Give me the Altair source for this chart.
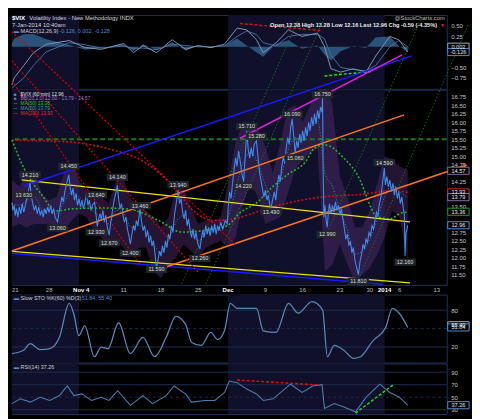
import altair as alt
import pandas as pd

FONT = "Liberation Sans"
W = 448
H_MACD, H_MAIN, H_GAP, H_STO, H_RSI = 76, 201, 8, 70, 52
BORDER = "#223152"
SHADE = "#10102a"
AX_COL = "#c4c4c4"
BOX = "M-1,-0.333H1V0.333H-1Z"

# ---------------- x axis: trading-day index from 21 Oct 2013 ----------------
tick_days = [0, 5, 9.3, 15, 20, 25, 29, 34, 39, 44, 48, 50, 52, 57]
tick_labels = ["21", "28", "Nov 4", "11", "18", "25", "Dec", "9", "16", "23", "30", "2014", "6", "13"]
tick_bold = [False, False, True, False, False, False, True, False, False, False, False, True, False, False]

shade_start = [0, 29]
shade_end = [9, 50]

# ---------------- $VIX 60-minute price ----------------
price_points = [
    (0.0, 13.63), (0.15, 13.40), (0.3, 13.55), (0.45, 13.25), (0.6, 13.45), (0.8, 13.20), (1.0, 13.50),
    (1.2, 13.30), (1.4, 13.60), (1.6, 13.35), (1.8, 13.55), (2.0, 13.75), (2.2, 13.95), (2.43, 14.21),
    (2.6, 13.85), (2.8, 13.60), (3.0, 13.40), (3.2, 13.55), (3.4, 13.30), (3.6, 13.50), (3.8, 13.25),
    (4.0, 13.40), (4.2, 13.20), (4.4, 13.45), (4.6, 13.30), (4.8, 13.50), (5.0, 13.35), (5.2, 13.55),
    (5.4, 13.30), (5.6, 13.45), (5.8, 13.20), (6.12, 13.06), (6.3, 13.30), (6.5, 13.55), (6.7, 13.80),
    (6.9, 13.65), (7.1, 13.95), (7.3, 14.15), (7.64, 14.45), (7.8, 14.10), (8.0, 13.85), (8.2, 14.05),
    (8.4, 13.70), (8.6, 13.90), (8.8, 13.55), (9.0, 13.75), (9.2, 13.50), (9.4, 13.70), (9.6, 13.45),
    (9.8, 13.65), (10.0, 13.90), (10.2, 13.55), (10.4, 13.70), (10.6, 13.40), (10.8, 13.55), (11.1, 13.64),
    (11.3, 13.25), (11.45, 12.93), (11.6, 13.10), (11.8, 13.30), (12.0, 13.15), (12.2, 13.40), (12.4, 13.05),
    (12.6, 13.25), (12.8, 12.90), (13.06, 12.67), (13.2, 12.95), (13.4, 13.25), (13.6, 13.55), (13.8, 13.80),
    (14.0, 13.95), (14.15, 14.14), (14.3, 13.75), (14.5, 13.45), (14.7, 13.60), (14.9, 13.25), (15.1, 13.05),
    (15.3, 13.20), (15.5, 12.85), (15.7, 12.65), (15.89, 12.40), (16.1, 12.70), (16.3, 12.95), (16.5, 12.80),
    (16.7, 13.10), (16.9, 12.95), (17.19, 13.46), (17.4, 13.05), (17.6, 12.80), (17.8, 12.95), (18.0, 12.60),
    (18.2, 12.80), (18.4, 12.45), (18.6, 12.65), (18.8, 12.35), (19.0, 12.50), (19.2, 12.10), (19.4, 11.65),
    (19.6, 11.95), (19.8, 12.20), (20.0, 12.05), (20.2, 12.35), (20.4, 12.15), (20.6, 12.50), (20.8, 12.30),
    (21.0, 12.70), (21.2, 12.55), (21.4, 12.95), (21.6, 12.75), (21.8, 13.25), (22.0, 13.55), (22.3, 13.98),
    (22.5, 13.60), (22.7, 13.75), (22.9, 13.35), (23.1, 13.15), (23.3, 13.40), (23.5, 12.95), (23.7, 13.15),
    (23.9, 12.80), (24.1, 12.60), (24.3, 12.85), (24.5, 12.55), (24.7, 12.75), (24.9, 12.45), (25.22, 12.26),
    (25.4, 12.55), (25.6, 12.80), (25.8, 12.60), (26.0, 12.95), (26.2, 12.70), (26.4, 12.90), (26.6, 12.65),
    (26.8, 12.95), (27.0, 12.75), (27.2, 13.00), (27.4, 12.70), (27.6, 12.95), (27.8, 12.80), (28.0, 13.05),
    (28.3, 12.85), (28.6, 13.10), (28.9, 13.00), (29.0, 13.45), (29.2, 13.95), (29.4, 13.75), (29.6, 14.20),
    (29.8, 14.60), (30.0, 14.95), (30.2, 14.70), (30.4, 15.15), (30.6, 14.90), (30.8, 14.55), (31.08, 14.25),
    (31.3, 15.00), (31.5, 15.75), (31.7, 15.20), (31.9, 14.95), (32.1, 15.25), (32.3, 15.00), (32.5, 15.35),
    (32.8, 15.45), (33.0, 15.00), (33.2, 14.55), (33.4, 14.30), (33.6, 14.05), (33.8, 13.80), (34.0, 14.00),
    (34.2, 13.70), (34.4, 13.85), (34.6, 13.55), (34.77, 13.49), (35.0, 13.75), (35.2, 13.95), (35.4, 13.70),
    (35.6, 14.15), (35.8, 14.45), (36.0, 14.25), (36.2, 14.70), (36.4, 14.95), (36.6, 14.80), (36.8, 15.25),
    (37.0, 15.55), (37.2, 15.35), (37.4, 15.85), (37.6, 16.10), (37.8, 15.60), (38.0, 15.10), (38.2, 15.45),
    (38.4, 15.25), (38.6, 15.65), (38.8, 15.40), (39.0, 15.75), (39.2, 15.45), (39.4, 15.85), (39.6, 15.60),
    (39.8, 16.00), (40.0, 15.75), (40.2, 16.15), (40.4, 15.90), (40.6, 16.25), (40.8, 15.95), (41.0, 16.35),
    (41.2, 16.10), (41.4, 16.45), (41.6, 16.30), (41.67, 16.75), (41.75, 14.60), (41.85, 13.20), (42.0, 13.55),
    (42.15, 13.10), (42.3, 12.90), (42.45, 13.35), (42.6, 13.60), (42.8, 13.30), (43.0, 13.55), (43.2, 13.35),
    (43.4, 13.65), (43.6, 13.40), (43.8, 13.55), (44.0, 13.25), (44.2, 13.45), (44.4, 13.15), (44.6, 12.85),
    (44.8, 12.55), (45.0, 12.70), (45.2, 12.35), (45.4, 12.50), (45.6, 12.15), (45.8, 12.30), (46.0, 11.95),
    (46.2, 11.75), (46.48, 11.50), (46.7, 11.90), (46.9, 12.10), (47.1, 12.40), (47.3, 12.25), (47.5, 12.55),
    (47.7, 12.45), (47.9, 12.75), (48.1, 12.65), (48.3, 12.95), (48.5, 12.85), (48.7, 13.10), (48.9, 13.35),
    (49.1, 13.25), (49.3, 13.60), (49.5, 13.80), (49.7, 14.20), (49.96, 14.65), (50.1, 14.15), (50.3, 14.40),
    (50.5, 14.10), (50.7, 14.30), (50.9, 13.95), (51.1, 14.20), (51.3, 13.85), (51.5, 14.10), (51.7, 13.75),
    (51.9, 13.95), (52.1, 13.60), (52.3, 13.80), (52.5, 13.45), (52.65, 13.25), (52.73, 12.05), (52.85, 12.70),
    (53.1, 12.96),
]

# Bollinger bands (20,2) and MA(20), one reading per trading day
bb_days = list(range(54)) + [53.1]
bb_upper = [14.30, 14.10, 14.50, 14.60, 13.90, 13.70, 13.80, 14.50, 14.80, 14.30,
            14.00, 13.90, 13.80, 13.60, 14.30, 14.30, 13.70, 13.60, 13.40, 13.20,
            12.90, 13.20, 14.10, 14.10, 13.50, 13.00, 13.10, 13.10, 13.20, 14.20,
            15.40, 16.00, 16.00, 15.80, 15.30, 14.50, 15.40, 16.40, 16.50, 16.00,
            16.50, 16.90, 17.30, 16.50, 14.40, 13.80, 12.90, 12.90, 13.40, 14.20,
            15.00, 14.90, 14.70, 14.60, 14.57]
bb_lower = [12.90, 13.00, 12.90, 13.00, 13.00, 13.00, 12.80, 12.80, 13.10, 13.30,
            13.20, 12.80, 12.60, 12.40, 12.50, 12.30, 12.10, 12.30, 12.30, 11.60,
            11.40, 11.80, 12.00, 12.40, 12.20, 12.00, 12.30, 12.40, 12.50, 12.30,
            12.60, 13.60, 14.20, 13.80, 13.00, 13.10, 13.20, 13.90, 14.60, 14.90,
            15.10, 15.20, 11.60, 11.80, 12.40, 11.80, 11.30, 11.50, 11.70, 12.10,
            12.60, 13.40, 13.20, 12.00, 12.00]
ma20_vals = [13.60, 13.55, 13.70, 13.80, 13.45, 13.35, 13.30, 13.65, 13.95, 13.80,
             13.60, 13.35, 13.20, 13.00, 13.40, 13.30, 12.90, 12.95, 12.85, 12.40,
             12.15, 12.50, 13.05, 13.25, 12.85, 12.50, 12.70, 12.75, 12.85, 13.20,
             14.00, 14.80, 15.10, 14.80, 14.15, 13.80, 14.30, 15.15, 15.55, 15.45,
             15.80, 16.05, 14.50, 14.10, 13.40, 12.80, 12.10, 12.20, 12.55, 13.15,
             13.80, 14.15, 13.95, 13.80, 13.79]

ma50_points = [(0, 15.48), (1.56, 14.67), (4.17, 13.81), (5.86, 13.38), (7.68, 13.44), (12.0, 13.47),
               (15.5, 13.44), (19.8, 13.09), (22.8, 12.76), (27.2, 12.86), (28.9, 12.95), (30.6, 13.33),
               (32.8, 13.62), (35.0, 14.10), (37.1, 14.48), (39.3, 14.81), (40.6, 15.24), (41.9, 15.34),
               (44.5, 14.95), (46.7, 14.30), (48.1, 13.52), (48.8, 13.24), (50.65, 13.15), (52.3, 13.33),
               (53.1, 13.36)]
ma200_points = [(0, 15.47), (5, 15.45), (9.4, 15.38), (13.3, 15.20), (17.2, 14.90), (19.8, 14.50),
                (22.0, 14.00), (24.3, 13.40), (27.2, 13.10), (29.8, 13.15), (33.2, 13.38), (37.1, 13.62),
                (39.3, 13.72), (42.3, 13.81), (46.7, 13.87), (51.0, 13.98), (53.1, 13.93)]

# peak / trough annotations: (day, where the label sits, text)
lbl_days = [1.6, 2.43, 7.64, 6.12, 11.33, 14.15, 11.33, 13.06, 15.89, 17.19, 22.3, 19.4,
            25.22, 31.5, 32.8, 31.08, 34.77, 37.6, 38.0, 41.67, 42.3, 46.48, 49.96, 52.73]
lbl_prices = [13.86, 14.45, 14.70, 12.88, 13.86, 14.38, 12.76, 12.44, 12.14, 13.54, 14.16, 11.66,
              11.98, 15.88, 15.59, 14.12, 13.36, 16.24, 14.95, 16.82, 12.69, 11.30, 14.81, 11.87]
lbl_texts = ["13.630", "14.210", "14.450", "13.060", "13.640", "14.140", "12.930", "12.670",
             "12.400", "13.460", "13.940", "11.590", "12.260", "15.710", "15.280", "14.220",
             "13.490", "16.090", "15.060", "16.750", "12.990", "11.810", "14.590", "12.160"]

# drawn trend lines on the price panel: (id, colour, day1, price1, day2, price2)
solid_lines = [
    ("blue_lo", "#1a1aff", 0, 12.13, 49.74, 11.22),
    ("yellow_lo", "#e8e400", 0, 12.19, 53.39, 11.26),
    ("yellow_up", "#e8e400", 1.30, 14.30, 53.39, 13.06),
    ("orange1", "#ff7518", 0, 12.20, 52.6, 16.22),
    ("orange2", "#ff7518", 20.18, 11.69, 61.0, 14.74),
    ("blue_up", "#1a1aff", 1.56, 14.12, 53.65, 17.96),
    ("magenta", "#e020e0", 30.6, 15.53, 52.34, 17.99),
]
red_lines = [
    ("r1", "#e00000", 0, 18.68, 30.2, 12.35),
    ("r2", "#e00000", 0, 17.82, 25.0, 11.57),
    ("r3", "#e00000", 0, 17.22, 17.19, 11.80),
]
fan_lines = [
    ("fa", "#1f6e1f", 26.04, 11.23, 41.93, 19.10),
    ("fb", "#1f6e1f", 22.79, 11.23, 38.54, 19.10),
    ("fc", "#1f6e1f", 42.32, 12.75, 54.95, 19.10),
    ("fd", "#1f6e1f", 46.48, 11.37, 61.2, 18.88),
]
hline_level = [15.50]

main_ticks = [11.5, 11.75, 12, 12.25, 12.5, 12.75, 13.5, 14.25, 14.75, 15, 15.25, 15.5, 15.75, 16, 16.25, 16.5, 16.75]
main_boxes = [(14.57, "14.57", "#8d6fae"), (13.93, "13.93", "#d42a2a"), (13.79, "13.79", "#8d6fae"),
              (13.36, "13.36", "#2aa02a"), (12.96, "12.96", "#4f94e0")]

# ---------------- MACD(12,26,9) ----------------
macd_days = [0, 0.3, 1.6, 2.9, 4.6, 7.7, 9.8, 12, 15, 16.3, 17.6, 19.4, 21.5, 23.3, 25, 26.7, 28.5,
             30.2, 31.5, 32.8, 33.7, 35.4, 37.1, 38.9, 41, 41.9, 42.8, 44.1, 45.8, 47.5, 48.8, 50.7, 51.9, 53.1]
macd_vals = [-0.92, -0.75, -0.45, -0.14, 0.06, 0.15, -0.02, -0.06, 0.08, -0.14, 0.03, -0.14, 0.17, -0.06,
             0.03, -0.02, 0.06, 0.45, 0.41, 0.17, -0.14, 0.09, 0.41, 0.25, 0.33, 0.02, -0.53, -0.61, -0.53,
             -0.61, -0.22, 0.25, 0.17, -0.126]
signal_vals = [-1.00, -0.95, -0.75, -0.45, -0.12, 0.10, 0.05, -0.03, 0.02, -0.04, -0.03, -0.07, 0.06, 0.03,
               0.00, 0.00, 0.02, 0.25, 0.38, 0.30, 0.10, 0.02, 0.25, 0.30, 0.30, 0.20, -0.20, -0.50, -0.55,
               -0.58, -0.45, 0.00, 0.15, 0.002]
hist_vals = [0.08, 0.20, 0.30, 0.31, 0.18, 0.05, -0.07, -0.03, 0.06, -0.10, 0.06, -0.07, 0.11, -0.09,
             0.03, -0.02, 0.04, 0.20, 0.03, -0.13, -0.24, 0.07, 0.16, -0.05, 0.03, -0.18, -0.33, -0.11,
             0.02, -0.03, 0.23, 0.25, 0.02, -0.128]
macd_red = [("m_red", "#e01010", 30.6, 0.562, 41.54, 0.391)]
macd_green = [("m_green", "#20e020", 41.93, -0.703, 48.44, -0.593)]
macd_ticks = [0.5, 0.25, -0.5, -0.75]
macd_boxes = [(0.002, "0.002", "#9ab0c8"), (-0.126, "-0.126", "#4a90d0")]

# ---------------- Slow STO and RSI ----------------
sto_points = [(0, 9.4), (1.56, 14.8), (2.47, 25.7), (3.78, 15.7), (5.08, 17.3), (6.38, 35.8), (7.68, 91),
              (8.33, 72.6), (8.98, 38.5), (9.77, 54.3), (11.07, 4.2), (11.98, 20), (12.89, 17.3),
              (14.32, 59.5), (15.89, 9.4), (17.58, 35.8), (19.14, 4.2), (20.7, 35.8), (22.0, 70),
              (23.3, 56.8), (24.09, 27.9), (25.39, 22.7), (26.69, 43.7), (27.6, 32.2), (28.52, 46.4),
              (29.3, 91), (30.21, 83), (31.51, 83), (32.81, 83), (33.72, 46.4), (35.42, 43.7), (37.11, 91),
              (38.41, 75), (40.23, 93.8), (41.67, 80.5), (42.32, 4.2), (43.23, 22.7), (44.53, 14.8),
              (45.83, 1.5), (46.74, 4.2), (48.44, 30.5), (50.13, 51.6), (51.04, 83), (51.95, 75), (53.1, 51.84)]
sto_grid_solid = [20, 80]
sto_grid_dash = [50]
sto_ticks = [20, 80]
sto_boxes = [(55.40, "55.40", "#9ab0c8"), (51.84, "51.84", "#4a90d0")]

rsi_points = [(0, 39.8), (1.13, 47.5), (2.47, 42.2), (3.78, 50), (5.08, 44.9), (6.38, 52.6), (7.42, 68),
              (8.33, 52.6), (9.38, 55.3), (10.68, 44.9), (11.98, 50), (13.02, 44.9), (14.19, 60.4),
              (15.89, 37.1), (17.58, 52.6), (18.88, 39.8), (20.7, 52.6), (21.74, 68), (23.3, 55.3),
              (24.09, 42.2), (25.91, 44.9), (27.21, 44.9), (28.52, 57.8), (29.17, 75.9), (30.21, 73.3),
              (31.51, 63), (32.81, 55.3), (33.72, 44.9), (35.03, 47.5), (37.37, 70.8), (38.93, 57.8),
              (40.36, 68), (41.6, 70), (41.93, 32), (43.23, 39.8), (44.53, 34.5), (46.09, 26.7),
              (47.53, 50), (49.35, 70.8), (50.65, 57.8), (51.95, 50), (53.1, 37.26)]
rsi_red = [("r_red", "#e01010", 30.2, 77.4, 41.15, 69.7)]
rsi_green = [("r_green", "#20e020", 46.1, 24.7, 51.3, 71.2)]
rsi_grid_solid = [30, 70, 90]
rsi_grid_dash = [50]
rsi_ticks = [30, 50, 70, 90]
rsi_boxes = [(37.26, "37.26", "#4a90d0")]

# ---------------- helpers ----------------
xs = alt.Scale(domain=[0, 58.33], nice=False, zero=False)


def X(field):
    return alt.X(field, type="quantitative", scale=xs, axis=None)


def yaxis(values, fmt):
    return alt.Axis(orient="right", values=values, format=fmt, labelColor=AX_COL, labelFont=FONT,
                    labelFontSize=6.2, domain=False, ticks=False, grid=False, labelPadding=4,
                    title=None, labelOverlap=False)


def seg_df(segs):
    rows = []
    for name, col, d1, v1, d2, v2 in segs:
        rows.append({"id": name, "col": col, "day": d1, "v": v1})
        rows.append({"id": name, "col": col, "day": d2, "v": v2})
    return pd.DataFrame(rows)


def seg_layer(segs, Y, width=1.5, dash=None):
    kw = dict(clip=False, strokeWidth=width)
    if dash:
        kw["strokeDash"] = dash
    return alt.Chart(seg_df(segs)).mark_line(**kw).encode(
        x=X("day"), y=Y("v"), detail="id:N", color=alt.Color("col:N", scale=None))


def T(x, y, text, color="#d0d0d0", size=6.0, weight="normal", align="left"):
    return alt.Chart(pd.DataFrame({"t": [text]})).mark_text(
        align=align, baseline="middle", fontSize=size, fontWeight=weight, font=FONT, color=color
    ).encode(x=alt.value(x), y=alt.value(y), text="t:N")


def boxes(items, Y):
    df = pd.DataFrame(items, columns=["val", "txt", "col"])
    base = alt.Chart(df).encode(x=alt.value(W + 12), y=Y("val"))
    r = base.mark_point(shape=BOX, size=484, filled=True, fill="#000000", opacity=1,
                        strokeWidth=1).encode(stroke=alt.Stroke("col:N", scale=None))
    t = base.mark_text(font=FONT, fontSize=5.8, color="#e8e8e8", baseline="middle").encode(text="txt:N")
    return [r, t]


def shade_layer():
    df = pd.DataFrame({"start": shade_start, "end": shade_end})
    return alt.Chart(df).mark_rect(color=SHADE).encode(x=X("start"), x2="end:Q")


def grid_layers(solid, dash, Y):
    a = alt.Chart(pd.DataFrame({"g": solid})).mark_rule(color="#1e2d50", strokeWidth=1).encode(y=Y("g"))
    b = alt.Chart(pd.DataFrame({"g": dash})).mark_rule(color="#1e2d50", strokeWidth=1,
                                                        strokeDash=[3, 3]).encode(y=Y("g"))
    return [a, b]


# ---------------- MACD panel ----------------
macd_scale = alt.Scale(domain=[-1.014, 0.766], nice=False, zero=False)
macd_axis = yaxis(macd_ticks, ".2f")


def Ymacd(f):
    return alt.Y(f, type="quantitative", scale=macd_scale, axis=macd_axis, title=None)


macd_df = pd.DataFrame({"day": macd_days, "macd": macd_vals, "sig": signal_vals, "hist": hist_vals})
macd_layers = [
    shade_layer(),
    alt.Chart(macd_df).mark_area(color="#2c5b84", opacity=0.9).encode(
        x=X("day"), y=Ymacd("hist"), y2=alt.datum(0)),
    alt.Chart(macd_df).mark_line(color="#3f6f9f", strokeWidth=1).encode(x=X("day"), y=Ymacd("sig")),
    alt.Chart(macd_df).mark_line(color="#8197ae", strokeWidth=1).encode(x=X("day"), y=Ymacd("macd")),
    seg_layer(macd_red, Ymacd, 1.5, [3, 2]),
    seg_layer(macd_green, Ymacd, 1.5, [3, 2]),
    *boxes(macd_boxes, Ymacd),
    T(0, 3.5, "$VIX", "#ffffff", 6.3, "bold"),
    T(18, 3.5, "Volatility Index - New Methodology INDX", "#d8d8d8", 6.0),
    T(0, 10, "7-Jan-2014 10:40am", "#d8d8d8", 6.0),
    T(446, 3.5, "@StockCharts.com", "#bdbdbd", 6.0, align="right"),
    T(438, 10, "Open 12.38 High 13.28 Low 12.16 Last 12.96 Chg -0.59 (-4.35%)", "#e8e8e8", 5.8, "bold", "right"),
    T(441, 10, "\u25bc", "#e03030", 5.0),
    T(2, 16, "\u25ac", "#5b8fc4", 5.5),
    T(9, 16, "MACD(12,26,9)", "#d0d0d0", 5.6),
    T(49, 16, "-0.126, 0.002, -0.128", "#4a90d0", 5.6),
]
macd = alt.layer(*macd_layers).properties(width=W, height=H_MACD)

# ---------------- main price panel ----------------
main_scale = alt.Scale(domain=[11.20, 16.96], nice=False, zero=False)
main_axis = yaxis(main_ticks, ".2f")


def Ym(f):
    return alt.Y(f, type="quantitative", scale=main_scale, axis=main_axis, title=None)


price_df = pd.DataFrame(price_points, columns=["day", "v"])
bb_df = pd.DataFrame({"day": bb_days, "up": bb_upper, "lo": bb_lower, "mid": ma20_vals})
ma50_df = pd.DataFrame(ma50_points, columns=["day", "v"])
ma200_df = pd.DataFrame(ma200_points, columns=["day", "v"])
lbl_df = pd.DataFrame({"day": lbl_days, "lp": lbl_prices, "txt": lbl_texts})
lbl_base = alt.Chart(lbl_df).encode(x=X("day"), y=Ym("lp"))

legend_rows = [
    ("\u25a0", "#3d8ee8", "$VIX (60 min) 12.96", "#e0e0e0"),
    ("\u25a0", "#8a5fb8", "BB(20,2.0) 12.00 - 13.79 - 14.57", "#a07cc8"),
    ("--", "#2fc02f", "MA(50) 13.36", "#2fc02f"),
    ("--", "#3aa5a5", "MA(20) 13.79", "#3aa5a5"),
    ("--", "#e03030", "MA(200) 13.93", "#e03030"),
]
legend_layers = []
for i, (sym, scol, txt, tcol) in enumerate(legend_rows):
    legend_layers.append(T(2, 4 + 5 * i, sym, scol, 5.0, "bold"))
    legend_layers.append(T(9, 4 + 5 * i, txt, tcol, 5.0))

main_layers = [
    shade_layer(),
    alt.Chart(bb_df).mark_area(color="#4a2a66", opacity=0.5, clip=True).encode(
        x=X("day"), y=Ym("lo"), y2="up:Q"),
    alt.Chart(pd.DataFrame({"v": hline_level})).mark_rule(
        color="#1b7a1b", strokeWidth=2, strokeDash=[5, 3]).encode(y=Ym("v")),
    seg_layer(fan_lines, Ym, 1, [1.5, 2]),
    alt.Chart(bb_df).mark_line(color="#2f9a9a", strokeWidth=1, strokeDash=[1, 2],
                               interpolate="monotone").encode(x=X("day"), y=Ym("mid")),
    alt.Chart(ma200_df).mark_line(color="#d81010", strokeWidth=1.6, strokeDash=[2, 2],
                                  interpolate="monotone").encode(x=X("day"), y=Ym("v")),
    alt.Chart(ma50_df).mark_line(color="#22bb22", strokeWidth=1.6, strokeDash=[2, 2],
                                 interpolate="monotone").encode(x=X("day"), y=Ym("v")),
    seg_layer(solid_lines, Ym, 1.5),
    seg_layer(red_lines, Ym, 1.2, [2, 2]),
    alt.Chart(price_df).mark_line(color="#3b8ef0", strokeWidth=1.1).encode(x=X("day"), y=Ym("v")),
    lbl_base.mark_point(shape=BOX, size=484, filled=True, fill="#22272e", opacity=1, strokeWidth=0),
    lbl_base.mark_text(font=FONT, fontSize=5.6, color="#dcdcdc", baseline="middle").encode(text="txt:N"),
    *legend_layers,
    *boxes(main_boxes, Ym),
]
main = alt.layer(*main_layers).properties(width=W, height=H_MAIN)

# ---------------- date labels row ----------------
ticks_df = pd.DataFrame({"day": tick_days, "lab": tick_labels, "bold": tick_bold})
first_df = ticks_df[ticks_df["day"] == 0]
norm_df = ticks_df[(~ticks_df["bold"]) & (ticks_df["day"] > 0)]
bold_df = ticks_df[ticks_df["bold"]]
gap = alt.layer(
    alt.Chart(first_df).mark_text(align="left", baseline="middle", font=FONT, fontSize=6.2,
                                  color="#bdbdbd").encode(x=X("day"), y=alt.value(4), text="lab:N"),
    alt.Chart(norm_df).mark_text(baseline="middle", font=FONT, fontSize=6.2,
                                 color="#bdbdbd").encode(x=X("day"), y=alt.value(4), text="lab:N"),
    alt.Chart(bold_df).mark_text(baseline="middle", font=FONT, fontSize=6.2, fontWeight="bold",
                                 color="#ffffff").encode(x=X("day"), y=alt.value(4), text="lab:N"),
).properties(width=W, height=H_GAP, view=alt.ViewBackground(stroke="transparent"))

# ---------------- STO panel ----------------
sto_scale = alt.Scale(domain=[-5.3, 105.3], nice=False, zero=False)
sto_axis = yaxis(sto_ticks, "d")


def Ysto(f):
    return alt.Y(f, type="quantitative", scale=sto_scale, axis=sto_axis, title=None)


sto_df = pd.DataFrame(sto_points, columns=["day", "v"])
sto = alt.layer(
    shade_layer(),
    *grid_layers(sto_grid_solid, sto_grid_dash, Ysto),
    alt.Chart(sto_df).mark_line(color="#5a88b5", strokeWidth=1.3, interpolate="monotone").encode(
        x=X("day"), y=Ysto("v")),
    *boxes(sto_boxes, Ysto),
    T(2, 3.5, "\u25ac", "#5b8fc4", 5.5),
    T(9, 3.5, "Slow STO %K(60) %D(3)", "#d0d0d0", 5.6),
    T(72, 3.5, "51.84, 55.40", "#4a90d0", 5.6),
).properties(width=W, height=H_STO)

# ---------------- RSI panel ----------------
rsi_scale = alt.Scale(domain=[23.2, 103.8], nice=False, zero=False)
rsi_axis = yaxis(rsi_ticks, "d")


def Yrsi(f):
    return alt.Y(f, type="quantitative", scale=rsi_scale, axis=rsi_axis, title=None)


rsi_df = pd.DataFrame(rsi_points, columns=["day", "v"])
rsi = alt.layer(
    shade_layer(),
    *grid_layers(rsi_grid_solid, rsi_grid_dash, Yrsi),
    alt.Chart(rsi_df).mark_line(color="#4a7fb0", strokeWidth=1.1).encode(x=X("day"), y=Yrsi("v")),
    seg_layer(rsi_red, Yrsi, 1.5, [3, 2]),
    seg_layer(rsi_green, Yrsi, 1.5, [3, 2]),
    *boxes(rsi_boxes, Yrsi),
    T(2, 3.5, "\u25ac", "#5b8fc4", 5.5),
    T(9, 3.5, "RSI(14) 37.26", "#d0d0d0", 5.6),
).properties(width=W, height=H_RSI)

chart = alt.vconcat(macd, main, gap, sto, rsi, spacing=1, bounds="flush").properties(
    background="#000000", padding=0
).configure_view(stroke=BORDER, strokeWidth=1)

chart.save("out.html", embed_options={"renderer": "svg", "actions": False})
